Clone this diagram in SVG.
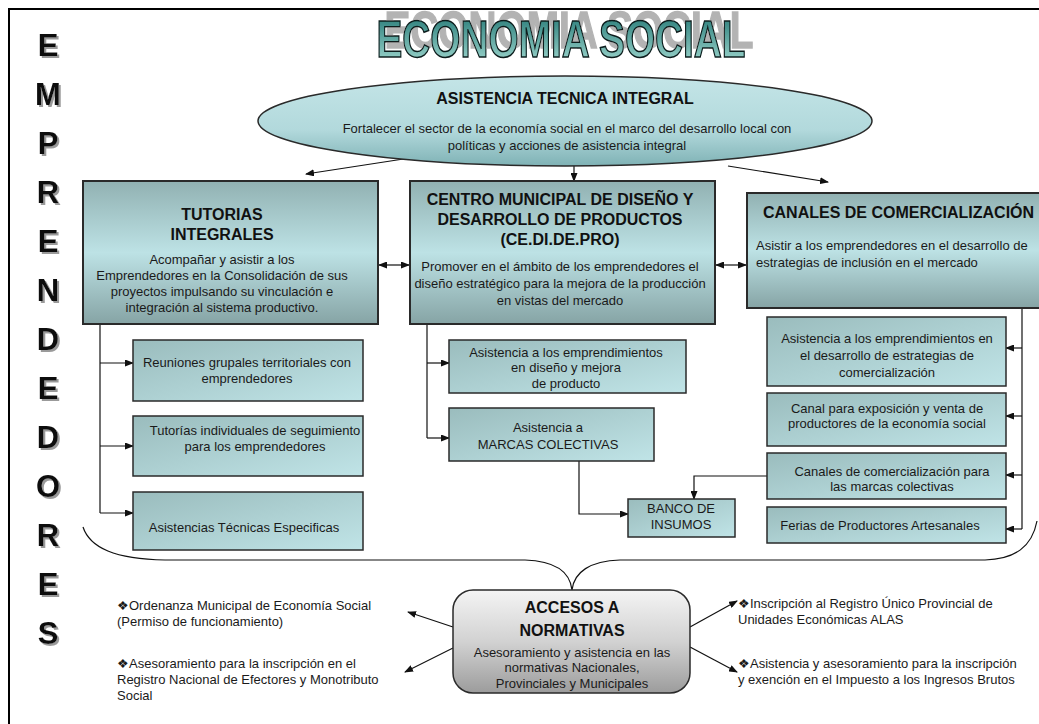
<svg xmlns="http://www.w3.org/2000/svg" width="1039" height="724" viewBox="0 0 1039 724">
<style>
.t{font-family:"Liberation Sans",Arial,sans-serif;fill:#1a1a1a;font-size:13px;text-anchor:middle}
.b{font-weight:bold;font-size:16px;fill:#111}
.l{text-anchor:start}
.box{fill:url(#gBig);stroke:#2a2a2a;stroke-width:2}
.sm{fill:url(#gSmall);stroke:#2a2a2a;stroke-width:1.5}
.c{fill:none;stroke:#111;stroke-width:1.2}
.a{marker-end:url(#ah)}
.d{marker-end:url(#ah);marker-start:url(#ah)}
.big{font-family:"Liberation Sans",Arial,sans-serif;font-weight:bold;font-size:31px;fill:#111;text-anchor:middle;filter:url(#shL)}
</style>
<defs>
<linearGradient id="gBig" x1="0" y1="0" x2="0" y2="1">
<stop offset="0" stop-color="#91b1b2"/>
<stop offset="0.5" stop-color="#bde2e5"/>
<stop offset="1" stop-color="#86a4a5"/>
</linearGradient>
<linearGradient id="gSmall" x1="0" y1="0" x2="1" y2="1">
<stop offset="0" stop-color="#9abcbd"/>
<stop offset="1" stop-color="#c0e4e7"/>
</linearGradient>
<linearGradient id="gEll" x1="0" y1="0" x2="0" y2="1">
<stop offset="0" stop-color="#c4e5e7"/>
<stop offset="0.6" stop-color="#b2d9dc"/>
<stop offset="1" stop-color="#7fb2b5"/>
</linearGradient>
<linearGradient id="gAcc" x1="0" y1="0" x2="0" y2="1">
<stop offset="0" stop-color="#f4f4f4"/>
<stop offset="0.5" stop-color="#d2d2d2"/>
<stop offset="1" stop-color="#9c9c9c"/>
</linearGradient>
<linearGradient id="gTitle" x1="0" y1="0" x2="0" y2="1">
<stop offset="0" stop-color="#1f7471"/>
<stop offset="1" stop-color="#a6ddd4"/>
</linearGradient>
<filter id="shT" x="-5%" y="-60%" width="115%" height="170%">
<feOffset in="SourceAlpha" dx="8" dy="-9" result="o"/>
<feFlood flood-color="#b3b3b3"/>
<feComposite in2="o" operator="in" result="s"/>
<feMerge><feMergeNode in="s"/><feMergeNode in="SourceGraphic"/></feMerge>
</filter>
<filter id="shL" x="-20%" y="-20%" width="150%" height="150%">
<feOffset in="SourceAlpha" dx="2" dy="2" result="o"/>
<feFlood flood-color="#9a9a9a"/>
<feComposite in2="o" operator="in" result="s"/>
<feMerge><feMergeNode in="s"/><feMergeNode in="SourceGraphic"/></feMerge>
</filter>
<marker id="ah" markerWidth="9" markerHeight="7" refX="8" refY="3.5" orient="auto-start-reverse" markerUnits="userSpaceOnUse">
<path d="M0,0 L9,3.5 L0,7 z" fill="#111"/>
</marker>
</defs>
<rect x="0" y="0" width="1039" height="724" fill="#fff"/>
<rect x="9" y="9" width="1060" height="740" fill="none" stroke="#000" stroke-width="2"/>

<g id="title">
<text x="561" y="57" font-family="Liberation Sans,Arial,sans-serif" font-weight="bold" font-size="52" fill="url(#gTitle)" stroke="#0a1a1a" stroke-width="1.5" text-anchor="middle" textLength="369" lengthAdjust="spacingAndGlyphs" filter="url(#shT)">ECONOMIA SOCIAL</text>
</g>

<g id="emprendedores">
<text class="big" x="48" y="56">E</text>
<text class="big" x="48" y="105">M</text>
<text class="big" x="48" y="154">P</text>
<text class="big" x="48" y="203">R</text>
<text class="big" x="48" y="252">E</text>
<text class="big" x="48" y="301">N</text>
<text class="big" x="48" y="350">D</text>
<text class="big" x="48" y="399">E</text>
<text class="big" x="48" y="448">D</text>
<text class="big" x="48" y="497">O</text>
<text class="big" x="48" y="546">R</text>
<text class="big" x="48" y="595">E</text>
<text class="big" x="48" y="644">S</text>
</g>

<g id="connectors">
<path class="c a" d="M410,158 L306,174"/>
<path class="c a" d="M574,166 L574,181"/>
<path class="c a" d="M728,166 L828,182"/>
<path class="c d" d="M379,265 L409,265"/>
<path class="c d" d="M716,265 L746,265"/>
<path class="c" d="M100,324 V513"/>
<path class="c a" d="M100,363 H133"/>
<path class="c a" d="M100,446 H133"/>
<path class="c a" d="M100,513 H133"/>
<path class="c" d="M427,324 V438"/>
<path class="c a" d="M427,363 H449"/>
<path class="c a" d="M427,438 H449"/>
<path class="c a" d="M579,461 V514 H628"/>
<path class="c" d="M1022,308 V529"/>
<path class="c a" d="M1022,348 H1006"/>
<path class="c a" d="M1022,416 H1006"/>
<path class="c a" d="M1022,475 H1006"/>
<path class="c a" d="M1022,529 H1006"/>
<path class="c a" d="M767,476 H694 V499"/>
<path class="c" d="M83,527 C90,548 115,559 165,560 L525,560 C555,561 570,572 572,590 C574,572 590,561 620,560 L985,560 C1015,559 1032,547 1037,521"/>
<path class="c a" d="M453,627 L408,612"/>
<path class="c a" d="M453,648 L405,672"/>
<path class="c a" d="M690,627 L737,601"/>
<path class="c a" d="M690,647 L737,672"/>
</g>

<g id="asistencia">
<ellipse cx="565" cy="121" rx="307" ry="45" fill="url(#gEll)" stroke="#2a2a2a" stroke-width="1.5"/>
<text class="t b" x="565" y="104">ASISTENCIA TECNICA INTEGRAL</text>
<text class="t" x="567" y="133">Fortalecer el sector de la economía social en el marco del desarrollo local con</text>
<text class="t" x="567" y="150">políticas y acciones de asistencia integral</text>
</g>

<g id="tutorias">
<rect class="box" x="83" y="181" width="295" height="143"/>
<text class="t b" x="222" y="220">TUTORIAS</text>
<text class="t b" x="222" y="240">INTEGRALES</text>
<text class="t" x="222" y="264">Acompañar y asistir a los</text>
<text class="t" x="222" y="280">Emprendedores en la Consolidación de sus</text>
<text class="t" x="222" y="296">proyectos impulsando su vinculación e</text>
<text class="t" x="222" y="312">integración al sistema productivo.</text>
</g>

<g id="cedipro">
<rect class="box" x="410" y="181" width="305" height="143"/>
<text class="t b" x="560" y="205">CENTRO MUNICIPAL DE DISEÑO Y</text>
<text class="t b" x="560" y="225">DESARROLLO DE PRODUCTOS</text>
<text class="t b" x="560" y="245">(CE.DI.DE.PRO)</text>
<text class="t" x="560" y="271">Promover en el ámbito de los emprendedores el</text>
<text class="t" x="560" y="288">diseño estratégico para la mejora de la producción</text>
<text class="t" x="560" y="305">en vistas del mercado</text>
</g>

<g id="canales">
<rect class="box" x="747" y="193" width="310" height="115"/>
<text class="t b l" x="763" y="218">CANALES DE COMERCIALIZACIÓN</text>
<text class="t l" x="756" y="250">Asistir a los emprendedores en el desarrollo de</text>
<text class="t l" x="756" y="267">estrategias de inclusión en el mercado</text>
</g>

<g id="reuniones">
<rect class="sm" x="133" y="340" width="230" height="61"/>
<text class="t" x="247" y="367">Reuniones grupales territoriales con</text>
<text class="t" x="247" y="383">emprendedores</text>
</g>
<g id="tutorias-ind">
<rect class="sm" x="133" y="416" width="230" height="60"/>
<text class="t" x="255" y="435">Tutorías individuales de seguimiento</text>
<text class="t" x="255" y="451">para los emprendedores</text>
</g>
<g id="asistencias-tec">
<rect class="sm" x="133" y="492" width="230" height="58"/>
<text class="t" x="244" y="532">Asistencias Técnicas Especificas</text>
</g>

<g id="asis-diseno">
<rect class="sm" x="449" y="340" width="237" height="53"/>
<text class="t" x="566" y="357">Asistencia a los emprendimientos</text>
<text class="t" x="566" y="372">en diseño y mejora</text>
<text class="t" x="566" y="388">de producto</text>
</g>
<g id="marcas">
<rect class="sm" x="449" y="408" width="205" height="53"/>
<text class="t" x="548" y="432">Asistencia a</text>
<text class="t" x="548" y="449">MARCAS COLECTIVAS</text>
</g>
<g id="banco">
<rect class="sm" x="628" y="499" width="107" height="38"/>
<text class="t" x="681" y="513">BANCO DE</text>
<text class="t" x="681" y="529">INSUMOS</text>
</g>

<g id="canal-asis">
<rect class="sm" x="767" y="317" width="239" height="69"/>
<text class="t" x="887" y="343">Asistencia a los emprendimientos en</text>
<text class="t" x="887" y="360">el desarrollo de estrategias de</text>
<text class="t" x="887" y="377">comercialización</text>
</g>
<g id="canal-expo">
<rect class="sm" x="767" y="393" width="239" height="53"/>
<text class="t" x="887" y="413">Canal para exposición y venta de</text>
<text class="t" x="887" y="428">productores de la economía social</text>
</g>
<g id="canal-marcas">
<rect class="sm" x="767" y="453" width="239" height="46"/>
<text class="t" x="892" y="476">Canales de comercialización para</text>
<text class="t" x="892" y="491">las marcas colectivas</text>
</g>
<g id="ferias">
<rect class="sm" x="767" y="507" width="239" height="36"/>
<text class="t" x="880" y="530">Ferias de Productores Artesanales</text>
</g>

<g id="accesos">
<rect x="453" y="590" width="237" height="103" rx="20" fill="url(#gAcc)" stroke="#2a2a2a" stroke-width="1.5"/>
<text class="t b" x="572" y="613">ACCESOS A</text>
<text class="t b" x="572" y="636">NORMATIVAS</text>
<text class="t" x="572" y="657">Asesoramiento y asistencia en las</text>
<text class="t" x="572" y="672">normativas Nacionales,</text>
<text class="t" x="572" y="688">Provinciales y Municipales</text>
</g>

<g id="norm-left">
<text class="t l" x="117" y="610">❖Ordenanza Municipal de Economía Social</text>
<text class="t l" x="117" y="626">(Permiso de funcionamiento)</text>
<text class="t l" x="117" y="668">❖Asesoramiento para la inscripción en el</text>
<text class="t l" x="117" y="684">Registro Nacional de Efectores y Monotributo</text>
<text class="t l" x="117" y="700">Social</text>
</g>
<g id="norm-right">
<text class="t l" x="738" y="608">❖Inscripción al Registro Único Provincial de</text>
<text class="t l" x="738" y="624">Unidades Económicas ALAS</text>
<text class="t l" x="738" y="668">❖Asistencia y asesoramiento para la inscripción</text>
<text class="t l" x="738" y="684">y exención en el Impuesto a los Ingresos Brutos</text>
</g>
</svg>
